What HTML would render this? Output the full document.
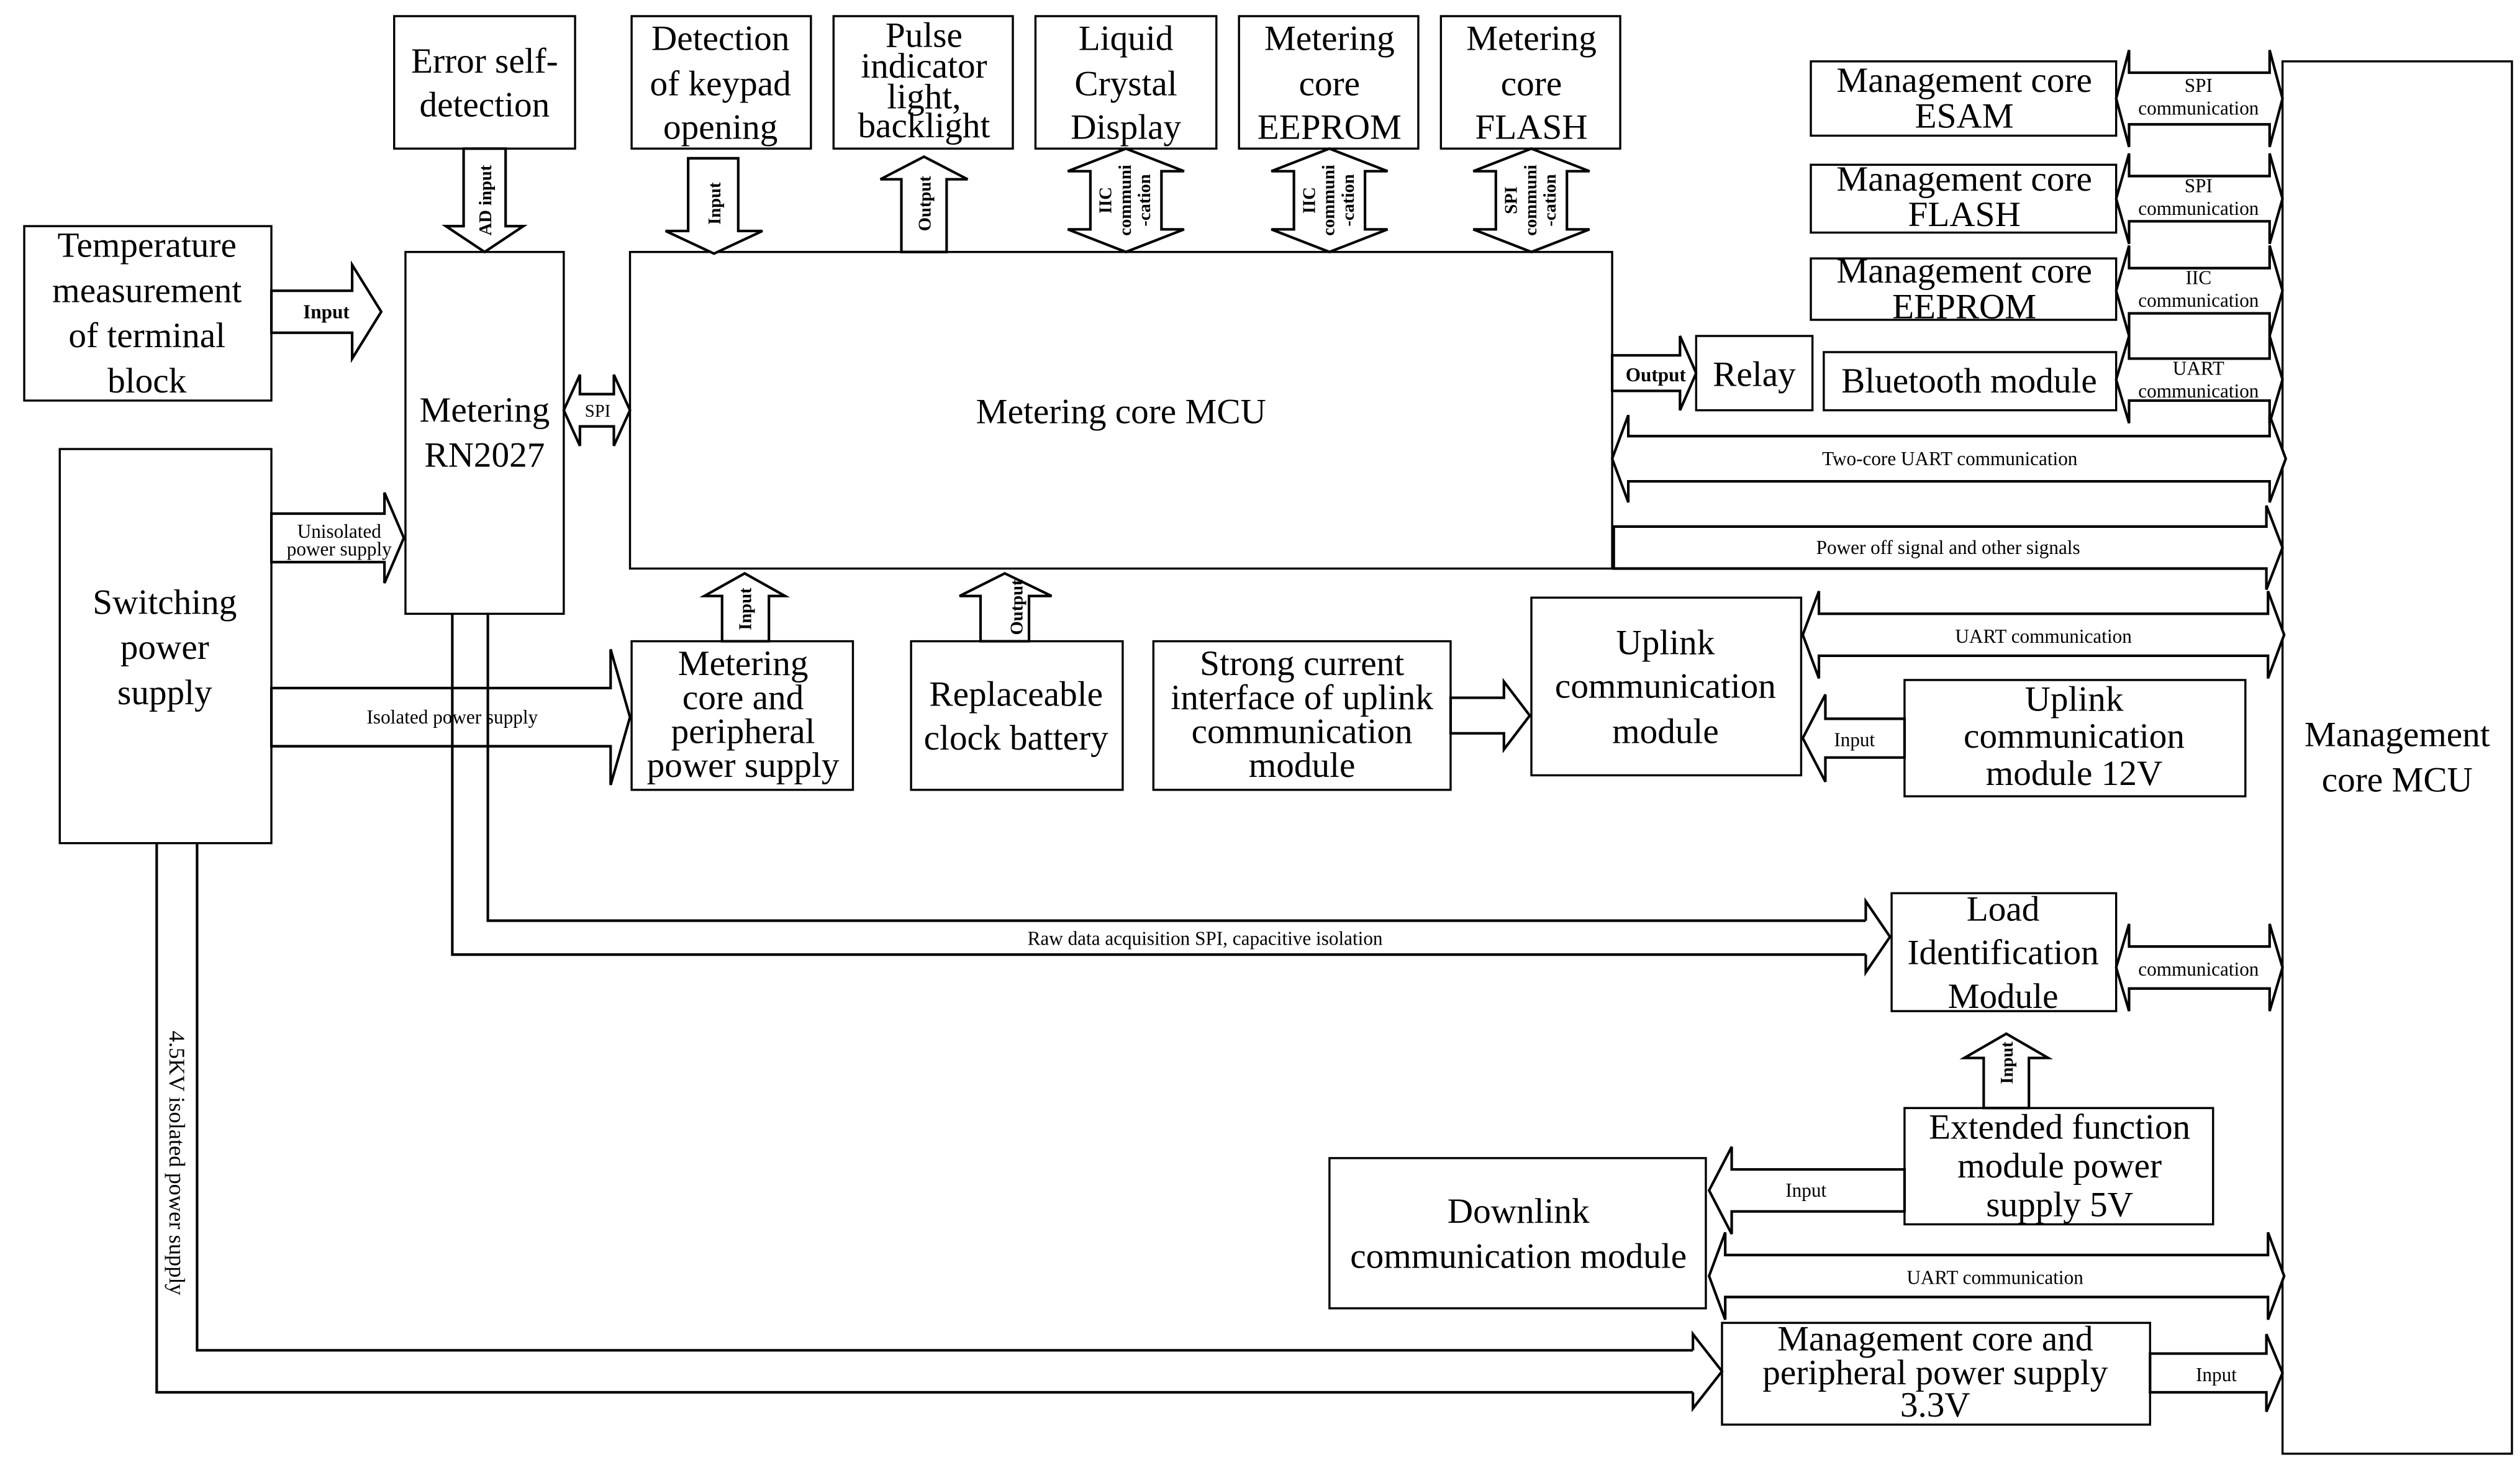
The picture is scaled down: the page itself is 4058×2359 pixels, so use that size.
<!DOCTYPE html>
<html><head><meta charset="utf-8"><style>
html,body{margin:0;padding:0;background:#fff}
svg{display:block}
text{font-family:"Liberation Serif",serif;fill:#000}
.b{font-size:22px}
.s{font-size:12px}
.v{font-size:11px;font-weight:bold}
</style></head><body>
<svg width="4058" height="2359" viewBox="0 0 1560 907" preserveAspectRatio="none" xmlns="http://www.w3.org/2000/svg">
<g fill="none" stroke="#000" stroke-width="1.3">
<rect x="15" y="140" width="153" height="108"/>
<rect x="251" y="156" width="98" height="224"/>
<rect x="37" y="278" width="131" height="244"/>
<rect x="244" y="10" width="112" height="82"/>
<rect x="391" y="10" width="111" height="82"/>
<rect x="516" y="10" width="111" height="82"/>
<rect x="641" y="10" width="112" height="82"/>
<rect x="767" y="10" width="111" height="82"/>
<rect x="892" y="10" width="111" height="82"/>
<rect x="390" y="156" width="608" height="196"/>
<rect x="1050" y="208" width="72" height="46"/>
<rect x="1129" y="218" width="181" height="36"/>
<rect x="1121" y="38" width="189" height="46"/>
<rect x="1121" y="102" width="189" height="42"/>
<rect x="1121" y="160" width="189" height="38"/>
<rect x="1413" y="38" width="142" height="862"/>
<rect x="948" y="370" width="167" height="110"/>
<rect x="1179" y="421" width="211" height="72"/>
<rect x="714" y="397" width="184" height="92"/>
<rect x="391" y="397" width="137" height="92"/>
<rect x="564" y="397" width="131" height="92"/>
<rect x="1171" y="553" width="139" height="73"/>
<rect x="1179" y="686" width="191" height="72"/>
<rect x="823" y="717" width="233" height="93"/>
<rect x="1066" y="819" width="265" height="63"/>
</g>
<g fill="#fff" stroke="#000" stroke-width="1.6">
<polygon points="168,180 218,180 218,164 236,193 218,222 218,206 168,206"/>
<polygon points="168,318 238,318 238,305 250,333 238,361 238,348 168,348"/>
<polygon points="168,426 378,426 378,402 390,444 378,486 378,462 168,462"/>
<polygon points="349,254 359,232 359,244 380,244 380,232 390,254 380,276 380,264 359,264 359,276"/>
<polygon points="998,220 1040,220 1040,208 1050,231 1040,254 1040,242 998,242"/>
<polygon points="1310,61 1318,31 1318,45 1405,45 1405,31 1413,61 1405,91 1405,77 1318,77 1318,91"/>
<polygon points="1310,123 1318,95 1318,109 1405,109 1405,95 1413,123 1405,151 1405,137 1318,137 1318,151"/>
<polygon points="1310,180 1318,152 1318,166 1405,166 1405,152 1413,180 1405,208 1405,194 1318,194 1318,208"/>
<polygon points="1310,235 1318,208 1318,222 1405,222 1405,208 1413,235 1405,262 1405,248 1318,248 1318,262"/>
<polygon points="998,284 1008,257 1008,270 1405,270 1405,257 1415,284 1405,311 1405,298 1008,298 1008,311"/>
<polygon points="999,326 1403,326 1403,313 1413,339 1403,365 1403,352 999,352"/>
<polygon points="1116,393 1126,366 1126,380 1404,380 1404,366 1414,393 1404,420 1404,406 1126,406 1126,420"/>
<polygon points="1179,445 1130,445 1130,430 1116,457 1130,484 1130,469 1179,469"/>
<polygon points="898,432 931,432 931,422 947,443 931,464 931,454 898,454"/>
<polygon points="447,397 447,369 436,369 461,355 486,369 476,369 476,397"/>
<polygon points="607,397 607,369 594,369 622,355 651,369 637,369 637,397"/>
<polygon points="1310,599 1318,572 1318,586 1405,586 1405,572 1413,599 1405,626 1405,612 1318,612 1318,626"/>
<polygon points="1228,686 1228,655 1216,655 1242,640 1268,655 1256,655 1256,686"/>
<polygon points="1179,724 1072,724 1072,710 1058,737 1072,764 1072,750 1179,750"/>
<polygon points="1058,790 1068,763 1068,777 1404,777 1404,763 1414,790 1404,817 1404,803 1068,803 1068,817"/>
<polygon points="1331,838 1403,838 1403,826 1413,850 1403,874 1403,862 1331,862"/>
<polygon points="287,92 287,140 276,140 300,156 324,140 313,140 313,92"/>
<polygon points="426,98 426,143 412,143 442,157 472,143 457,143 457,98"/>
<polygon points="558,156 558,111 545,111 572,97 599,111 586,111 586,156"/>
<polygon points="697,92 733,106 719,106 719,142 733,142 697,156 661,142 675,142 675,106 661,106"/>
<polygon points="823,92 859,106 845,106 845,142 859,142 823,156 787,142 801,142 801,106 787,106"/>
<polygon points="948,92 984,106 970,106 970,142 984,142 948,156 912,142 926,142 926,106 912,106"/>
</g>
<g fill="none" stroke="#000" stroke-width="1.6">
<path d="M280,380 V591 H1155 M302,380 V570 H1155"/>
<polyline points="1155,570 1155,558 1170,580 1155,602 1155,591"/>
<path d="M97,522 V862 H1048 M122,522 V836 H1048"/>
<polyline points="1048,836 1048,826 1066,849 1048,872 1048,862"/>
</g>
<g class="b" text-anchor="middle">
<text x="91" y="159">Temperature</text>
<text x="91" y="187">measurement</text>
<text x="91" y="215">of terminal</text>
<text x="91" y="243">block</text>
<text x="300" y="261">Metering</text>
<text x="300" y="289">RN2027</text>
<text x="102" y="380">Switching</text>
<text x="102" y="408">power</text>
<text x="102" y="436">supply</text>
<text x="300" y="45">Error self-</text>
<text x="300" y="72">detection</text>
<text x="446" y="31">Detection</text>
<text x="446" y="59">of keypad</text>
<text x="446" y="86">opening</text>
<text x="572" y="29">Pulse</text>
<text x="572" y="48">indicator</text>
<text x="572" y="67">light,</text>
<text x="572" y="85">backlight</text>
<text x="697" y="31">Liquid</text>
<text x="697" y="59">Crystal</text>
<text x="697" y="86">Display</text>
<text x="823" y="31">Metering</text>
<text x="823" y="59">core</text>
<text x="823" y="86">EEPROM</text>
<text x="948" y="31">Metering</text>
<text x="948" y="59">core</text>
<text x="948" y="86">FLASH</text>
<text x="694" y="262">Metering core MCU</text>
<text x="1086" y="239">Relay</text>
<text x="1219" y="243">Bluetooth module</text>
<text x="1216" y="57">Management core</text>
<text x="1216" y="79">ESAM</text>
<text x="1216" y="118">Management core</text>
<text x="1216" y="140">FLASH</text>
<text x="1216" y="175">Management core</text>
<text x="1216" y="197">EEPROM</text>
<text x="1484" y="462">Management</text>
<text x="1484" y="490">core MCU</text>
<text x="1031" y="405">Uplink</text>
<text x="1031" y="432">communication</text>
<text x="1031" y="460">module</text>
<text x="1284" y="440">Uplink</text>
<text x="1284" y="463">communication</text>
<text x="1284" y="486">module 12V</text>
<text x="806" y="418">Strong current</text>
<text x="806" y="439">interface of uplink</text>
<text x="806" y="460">communication</text>
<text x="806" y="481">module</text>
<text x="460" y="418">Metering</text>
<text x="460" y="439">core and</text>
<text x="460" y="460">peripheral</text>
<text x="460" y="481">power supply</text>
<text x="629" y="437">Replaceable</text>
<text x="629" y="464">clock battery</text>
<text x="1240" y="570">Load</text>
<text x="1240" y="597">Identification</text>
<text x="1240" y="624">Module</text>
<text x="1275" y="705">Extended function</text>
<text x="1275" y="729">module power</text>
<text x="1275" y="753">supply 5V</text>
<text x="940" y="757">Downlink</text>
<text x="940" y="785">communication module</text>
<text x="1198" y="836">Management core and</text>
<text x="1198" y="857">peripheral power supply</text>
<text x="1198" y="877">3.3V</text>
</g>
<g class="s" text-anchor="middle">
<text x="202" y="197" font-weight="bold">Input</text>
<text x="210" y="333">Unisolated</text>
<text x="210" y="344">power supply</text>
<text x="280" y="448">Isolated power supply</text>
<text x="370" y="258" font-size="11">SPI</text>
<text x="1025" y="236" font-weight="bold">Output</text>
<text x="1361" y="57">SPI</text>
<text x="1361" y="71">communication</text>
<text x="1361" y="119">SPI</text>
<text x="1361" y="133">communication</text>
<text x="1361" y="176">IIC</text>
<text x="1361" y="190">communication</text>
<text x="1361" y="232">UART</text>
<text x="1361" y="246">communication</text>
<text x="1207" y="288">Two-core UART communication</text>
<text x="1206" y="343">Power off signal and other signals</text>
<text x="1265" y="398">UART communication</text>
<text x="1148" y="462">Input</text>
<text x="746" y="585">Raw data acquisition SPI, capacitive isolation</text>
<text x="1361" y="604">communication</text>
<text x="1118" y="741">Input</text>
<text x="1235" y="795">UART communication</text>
<text x="1372" y="855">Input</text>
</g>
<g class="v" text-anchor="middle">
<text transform="translate(304,124) rotate(-90)">AD input</text>
<text transform="translate(446,126) rotate(-90)">Input</text>
<text transform="translate(576,126) rotate(-90)">Output</text>
<text transform="translate(465,377) rotate(-90)">Input</text>
<text transform="translate(633,376) rotate(-90)">Output</text>
<text transform="translate(1246,658) rotate(-90)">Input</text>
<text transform="translate(688,124) rotate(-90)">IIC</text>
<text transform="translate(700,124) rotate(-90)">communi</text>
<text transform="translate(712,124) rotate(-90)">-cation</text>
<text transform="translate(814,124) rotate(-90)">IIC</text>
<text transform="translate(826,124) rotate(-90)">communi</text>
<text transform="translate(838,124) rotate(-90)">-cation</text>
<text transform="translate(939,124) rotate(-90)">SPI</text>
<text transform="translate(951,124) rotate(-90)">communi</text>
<text transform="translate(963,124) rotate(-90)">-cation</text>
</g>
<text transform="translate(105,720) rotate(90)" text-anchor="middle" style="font-size:14px">4.5KV isolated power supply</text>
</svg>
</body></html>
